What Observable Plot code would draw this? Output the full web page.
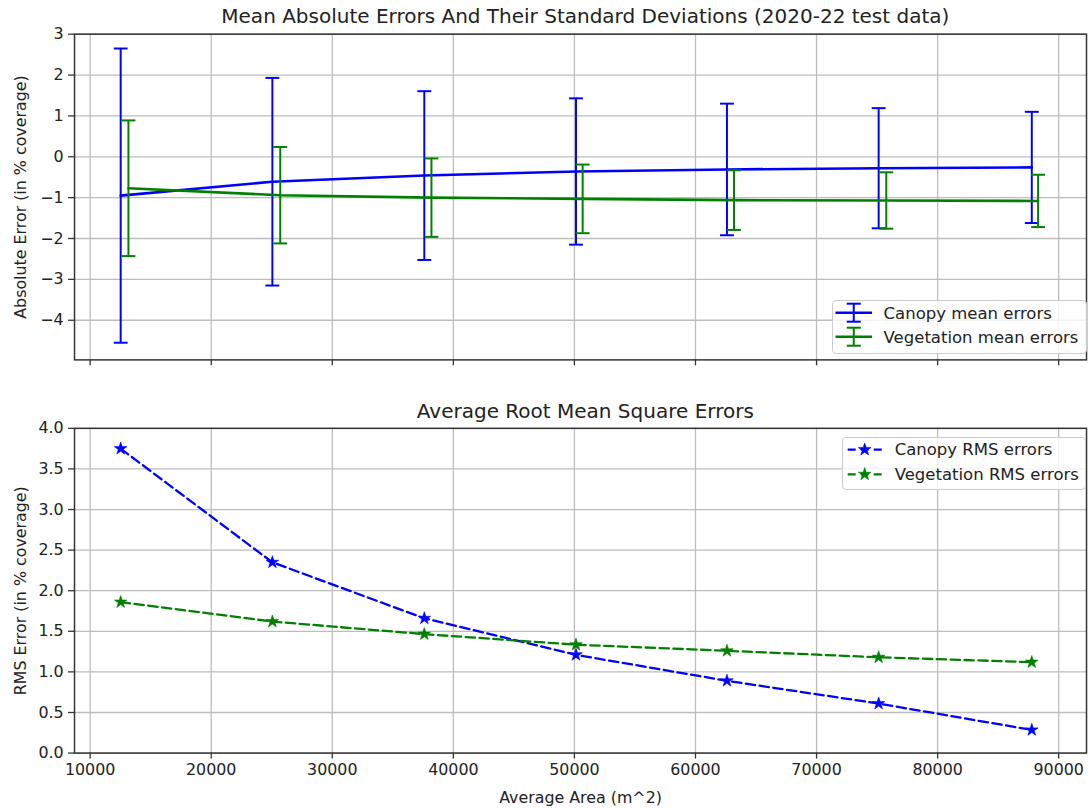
<!DOCTYPE html>
<html>
<head>
<meta charset="utf-8">
<script src="https://cdn.jsdelivr.net/npm/d3@7"></script>
<script src="https://cdn.jsdelivr.net/npm/@observablehq/plot@0.6"></script>
<style>
  html, body { margin: 0; padding: 0; background: #fff; }
  #wrap { position: relative; width: 1090px; height: 809px; overflow: hidden; font-family: "DejaVu Sans", sans-serif; color: #222; }
  .title { position: absolute; left: 74.7px; width: 1021.3px; text-align: center; font-size: 20px; line-height: 1; white-space: nowrap; }
  .panel { position: absolute; left: 0; }
  .legend { position: absolute; box-sizing: border-box; border: 1px solid #cccccc; border-radius: 4px; background: rgba(255,255,255,0.8); }
  .legend svg { position: absolute; left: -1px; top: -1px; overflow: visible; }
</style>
</head>
<body>
<div id="wrap">
  <div class="title" style="top:6px">Mean Absolute Errors And Their Standard Deviations (2020-22 test data)</div>
  <div class="title" style="top:400.5px">Average Root Mean Square Errors</div>
</div>
<script>
// ---------------- data ----------------
const areas        = [12520, 25050, 37600, 50130, 62600, 75130, 87780];   // canopy x positions (m^2)
const vegAreas     = [13160, 25700, 38190, 50680, 63180, 75760, 88300];   // vegetation error bars (slightly shifted)
const canopyMean   = [-0.95, -0.61, -0.46, -0.36, -0.31, -0.28, -0.26];
const canopySd     = [3.60, 2.54, 2.065, 1.79, 1.61, 1.47, 1.36];
const vegMean      = [-0.77, -0.94, -1.00, -1.03, -1.06, -1.07, -1.08];
const vegSd        = [1.66, 1.18, 0.96, 0.84, 0.73, 0.69, 0.64];
const canopyRms    = [3.75, 2.35, 1.66, 1.21, 0.89, 0.61, 0.285];
const vegRms       = [1.86, 1.62, 1.465, 1.335, 1.26, 1.18, 1.12];

const xTicks       = [10000, 20000, 30000, 40000, 50000, 60000, 70000, 80000, 90000];
const yTicksTop    = [-4, -3, -2, -1, 0, 1, 2, 3];
const yTicksBottom = [0, 0.5, 1.0, 1.5, 2.0, 2.5, 3.0, 3.5, 4.0];

const titles = {
  topY: "Absolute Error (in % coverage)",
  bottomY: "RMS Error (in % coverage)",
  x: "Average Area (m^2)"
};
const legendTop = ["Canopy mean errors", "Vegetation mean errors"];
const legendBottom = ["Canopy RMS errors", "Vegetation RMS errors"];

// ---------------- styling ----------------
const BLUE = "#0000ff", GREEN = "#008000", GRID = "#bdbdbd", AX = "#333333";
const baseStyle = { fontFamily: '"DejaVu Sans", sans-serif', fontSize: "16px", color: "#222", background: "transparent", overflow: "visible" };

const canopyRows = areas.map((x, i) => ({ x, mean: canopyMean[i], lo: canopyMean[i] - canopySd[i], hi: canopyMean[i] + canopySd[i] }));
const vegRows    = vegAreas.map((x, i) => ({ x, mean: vegMean[i], lo: vegMean[i] - vegSd[i], hi: vegMean[i] + vegSd[i] }));
const rmsRows    = areas.map((x, i) => ({ x, canopy: canopyRms[i], veg: vegRms[i] }));

const capSymbol = { draw(ctx, size) { const w = Math.sqrt(size / Math.PI); ctx.moveTo(-w, 0); ctx.lineTo(w, 0); } };

function errorMarks(rows, color) {
  return [
    Plot.line(rows, { x: "x", y: "mean", stroke: color, strokeWidth: 2.6 }),
    Plot.ruleX(rows, { x: "x", y1: "lo", y2: "hi", stroke: color, strokeWidth: 2 }),
    Plot.dot(rows, { x: "x", y: "hi", symbol: capSymbol, r: 7, stroke: color, fill: "none", strokeWidth: 2 }),
    Plot.dot(rows, { x: "x", y: "lo", symbol: capSymbol, r: 7, stroke: color, fill: "none", strokeWidth: 2 })
  ];
}

const common = { width: 1100, marginLeft: 74.7, marginRight: 4, style: baseStyle, x: { domain: [8708, 92300] } };

const topPlot = Plot.plot({
  ...common,
  height: 380, marginTop: 34, marginBottom: 17.3,
  y: { domain: [-4.97, 3.0] },
  marks: [
    Plot.gridX(xTicks, { stroke: GRID, strokeOpacity: 1, strokeWidth: 1.3 }),
    Plot.gridY(yTicksTop, { stroke: GRID, strokeOpacity: 1, strokeWidth: 1.3 }),
    ...errorMarks(canopyRows, BLUE),
    ...errorMarks(vegRows, GREEN),
    Plot.axisX({ ticks: xTicks, tickSize: 6, tickFormat: () => "", label: null, stroke: AX, strokeWidth: 1.3 }),
    Plot.axisY({ ticks: yTicksTop, tickSize: 6, tickPadding: 5, stroke: AX, strokeWidth: 1.3,
                 label: titles.topY, labelAnchor: "center", labelOffset: 60, labelArrow: "none" }),
    Plot.frame({ stroke: AX, strokeWidth: 1.5 })
  ]
});

const bottomPlot = Plot.plot({
  ...common,
  height: 429, marginTop: 48.3, marginBottom: 53,
  y: { domain: [0, 4] },
  marks: [
    Plot.gridX(xTicks, { stroke: GRID, strokeOpacity: 1, strokeWidth: 1.3 }),
    Plot.gridY(yTicksBottom, { stroke: GRID, strokeOpacity: 1, strokeWidth: 1.3 }),
    Plot.line(rmsRows, { x: "x", y: "canopy", stroke: BLUE, strokeWidth: 2.3, strokeDasharray: "9.5,4.5" }),
    Plot.dot(rmsRows, { x: "x", y: "canopy", symbol: "star", r: 4, fill: BLUE, stroke: BLUE, strokeWidth: 0.6 }),
    Plot.line(rmsRows, { x: "x", y: "veg", stroke: GREEN, strokeWidth: 2.3, strokeDasharray: "9.5,4.5" }),
    Plot.dot(rmsRows, { x: "x", y: "veg", symbol: "star", r: 4, fill: GREEN, stroke: GREEN, strokeWidth: 0.6 }),
    Plot.axisX({ ticks: xTicks, tickSize: 6, tickPadding: 5, tickFormat: d3.format("d"), stroke: AX, strokeWidth: 1.3,
                 label: titles.x, labelAnchor: "center", labelOffset: 50, labelArrow: "none" }),
    Plot.axisY({ ticks: yTicksBottom, tickSize: 6, tickPadding: 5, tickFormat: d3.format(".1f"), stroke: AX, strokeWidth: 1.3,
                 label: titles.bottomY, labelAnchor: "center", labelOffset: 60, labelArrow: "none" }),
    Plot.frame({ stroke: AX, strokeWidth: 1.5 })
  ]
});

const wrap = document.getElementById("wrap");
topPlot.classList.add("panel"); topPlot.style.top = "0px";
bottomPlot.classList.add("panel"); bottomPlot.style.top = "380px";
wrap.appendChild(topPlot);
wrap.appendChild(bottomPlot);

// ---------------- legends ----------------
function makeLegend(box, labels, colors, kind) {
  const div = document.createElement("div");
  div.className = "legend";
  Object.assign(div.style, { left: box.left + "px", top: box.top + "px", width: box.width + "px", height: box.height + "px" });
  const svg = d3.create("svg").attr("width", box.width).attr("height", box.height);
  labels.forEach((lab, i) => {
    const y = box.rows[i];
    const g = svg.append("g").attr("transform", `translate(0,${y})`);
    const c = colors[i];
    const cx = (box.h0 + box.h1) / 2;
    if (kind === "error") {
      g.append("line").attr("x1", box.h0).attr("x2", box.h1).attr("y1", 0).attr("y2", 0).attr("stroke", c).attr("stroke-width", 2.6);
      g.append("line").attr("x1", cx).attr("x2", cx).attr("y1", -9).attr("y2", 9).attr("stroke", c).attr("stroke-width", 2);
      [-9, 9].forEach(v => g.append("line").attr("x1", cx - 7).attr("x2", cx + 7).attr("y1", v).attr("y2", v).attr("stroke", c).attr("stroke-width", 2));
    } else {
      g.append("line").attr("x1", box.h0).attr("x2", box.h1).attr("y1", 0).attr("y2", 0).attr("stroke", c).attr("stroke-width", 2.3).attr("stroke-dasharray", "8,5");
      g.append("path").attr("transform", `translate(${cx},0)`).attr("d", d3.symbol(d3.symbolStar, 4 * 4 * Math.PI)()).attr("fill", c).attr("stroke", c).attr("stroke-width", 0.6);
    }
    g.append("text").attr("x", box.tx).attr("y", 5.8).attr("fill", "#222")
      .style("font-family", '"DejaVu Sans", sans-serif').style("font-size", "16.5px").text(lab);
  });
  div.appendChild(svg.node());
  wrap.appendChild(div);
}

makeLegend({ left: 831.7, top: 300, width: 255, height: 53.5, rows: [12.7, 36.7], h0: 3.5, h1: 40, tx: 51.6 },
           legendTop, [BLUE, GREEN], "error");
makeLegend({ left: 842.3, top: 436.7, width: 244.2, height: 53.3, rows: [12.6, 37.3], h0: 5.7, h1: 39.7, tx: 52.7 },
           legendBottom, [BLUE, GREEN], "rms");
</script>
</body>
</html>
